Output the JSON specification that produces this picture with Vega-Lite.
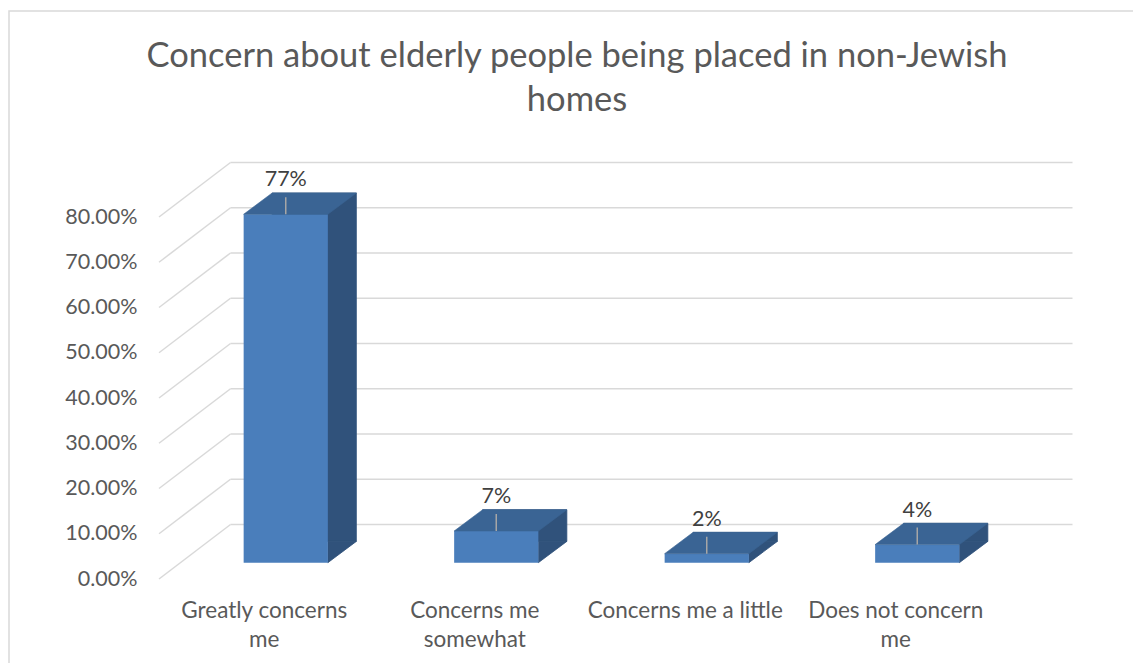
{
  "$schema": "https://vega.github.io/schema/vega-lite/v6.json",
  "width": 1130,
  "height": 660,
  "autosize": {"type": "none"},
  "padding": {"left": 9, "top": 11, "right": 0, "bottom": 0},
  "background": "white",
  "config": {
    "view": {"stroke": "#D9D9D9", "strokeWidth": 1.5},
    "font": "Lato"
  },
  "title": {
    "text": ["Concern about elderly people being placed in non-Jewish", "homes"],
    "font": "Lato",
    "fontSize": 34.5,
    "fontWeight": "normal",
    "color": "#595959",
    "lineHeight": 44,
    "anchor": "middle",
    "frame": "group",
    "dx": 3,
    "offset": -107
  },
  "datasets": {
    "responses": [
      {"response": "Greatly concerns me", "share": 0.77},
      {"response": "Concerns me somewhat", "share": 0.07},
      {"response": "Concerns me a little", "share": 0.02},
      {"response": "Does not concern me", "share": 0.04}
    ],
    "gridTicks": [
      {"tick": 0}, {"tick": 0.1}, {"tick": 0.2}, {"tick": 0.3}, {"tick": 0.4},
      {"tick": 0.5}, {"tick": 0.6}, {"tick": 0.7}, {"tick": 0.8}
    ]
  },
  "layer": [
    {
      "data": {"name": "gridTicks"},
      "encoding": {
        "x": {"datum": 0, "type": "quantitative", "scale": {"domain": [0, 1], "range": [150, 992], "nice": false, "zero": false}, "axis": null},
        "y": {
          "field": "tick", "type": "quantitative",
          "scale": {"domain": [0, 0.8], "range": [568, 206], "nice": false},
          "axis": {
            "title": null, "offset": -150, "orient": "left",
            "values": [0, 0.1, 0.2, 0.3, 0.4, 0.5, 0.6, 0.7, 0.8],
            "format": ".2%", "ticks": false, "tickSize": 0, "domain": false, "grid": false,
            "labelPadding": 22, "labelFont": "Lato", "labelFontSize": 21.5, "labelColor": "#595959"
          }
        }
      },
      "layer": [
        {
          "mark": {"type": "rule", "color": "#D9D9D9", "strokeWidth": 1.5, "xOffset": 71.5, "x2Offset": 71.5, "yOffset": -54.5, "y2Offset": -54.5},
          "encoding": {"x2": {"datum": 1}}
        },
        {
          "mark": {"type": "rule", "color": "#D9D9D9", "strokeWidth": 1.5, "x2Offset": 71.5, "y2Offset": -54.5},
          "encoding": {"x2": {"datum": 0}, "y2": {"field": "tick"}}
        }
      ]
    },
    {
      "data": {"name": "responses"},
      "encoding": {
        "x": {
          "field": "response", "type": "nominal", "sort": null,
          "scale": {"range": [150, 992], "paddingInner": 0.6, "paddingOuter": 0.3},
          "axis": {
            "title": null, "orient": "bottom", "offset": -92, "labelAngle": 0,
            "ticks": false, "tickSize": 0, "domain": false, "grid": false,
            "labelPadding": 20, "labelFont": "Lato", "labelFontSize": 22.5, "labelColor": "#595959",
            "labelLimit": 400, "labelLineHeight": 29,
            "labelExpr": "datum.label == 'Greatly concerns me' ? ['Greatly concerns', 'me'] : datum.label == 'Concerns me somewhat' ? ['Concerns me', 'somewhat'] : datum.label == 'Does not concern me' ? ['Does not concern', 'me'] : datum.label"
          }
        },
        "y": {
          "field": "share", "type": "quantitative", "stack": null,
          "scale": {"domain": [0, 0.8], "range": [568, 206], "nice": false},
          "axis": {
            "title": null, "offset": -150, "orient": "left",
            "values": [0, 0.1, 0.2, 0.3, 0.4, 0.5, 0.6, 0.7, 0.8],
            "format": ".2%", "ticks": false, "tickSize": 0, "domain": false, "grid": false,
            "labelPadding": 22, "labelFont": "Lato", "labelFontSize": 21.5, "labelColor": "#595959"
          }
        }
      },
      "layer": [
        {
          "mark": {"type": "bar", "fill": "#30527B", "stroke": "#30527B", "strokeWidth": 0.8, "xOffset": 50, "x2Offset": 50, "yOffset": -37.6, "y2Offset": -37.6},
          "encoding": {"y2": {"datum": 0}}
        },
        {
          "mark": {"type": "point", "shape": "M42.1,0L42.1,-21.3L70.6,-21.3Z", "size": 4, "filled": true, "opacity": 1, "fill": "#30527B", "stroke": "#30527B", "strokeWidth": 0.8, "xOffset": 21.5, "yOffset": -16.3},
          "encoding": {"y": {"datum": 0, "type": "quantitative"}}
        },
        {
          "mark": {"type": "bar", "color": "#4A7EBB", "xOffset": 21.5, "x2Offset": 21.5, "yOffset": -16.3, "y2Offset": -16.3},
          "encoding": {"y2": {"datum": 0}}
        },
        {
          "mark": {"type": "point", "shape": "M-42.1,0L42.1,0L70.6,-21.3L-13.6,-21.3Z", "size": 4, "filled": true, "opacity": 1, "fill": "#3A6494", "stroke": "#3A6494", "strokeWidth": 0.6, "xOffset": 21.5, "yOffset": -16.3}
        },
        {
          "mark": {"type": "point", "shape": "M0,0L0,-17", "size": 4, "filled": false, "opacity": 1, "color": "#A6A6A6", "strokeWidth": 1.5, "xOffset": 21.5, "yOffset": -16.3}
        },
        {
          "mark": {"type": "text", "font": "Lato", "fontSize": 21.5, "color": "#404040", "baseline": "alphabetic", "align": "center", "xOffset": 21.5, "yOffset": -16.3, "dy": -28},
          "encoding": {"text": {"field": "share", "type": "quantitative", "format": ".0%"}}
        }
      ]
    }
  ],
  "resolve": {"scale": {"x": "independent"}, "axis": {"x": "independent"}}
}
